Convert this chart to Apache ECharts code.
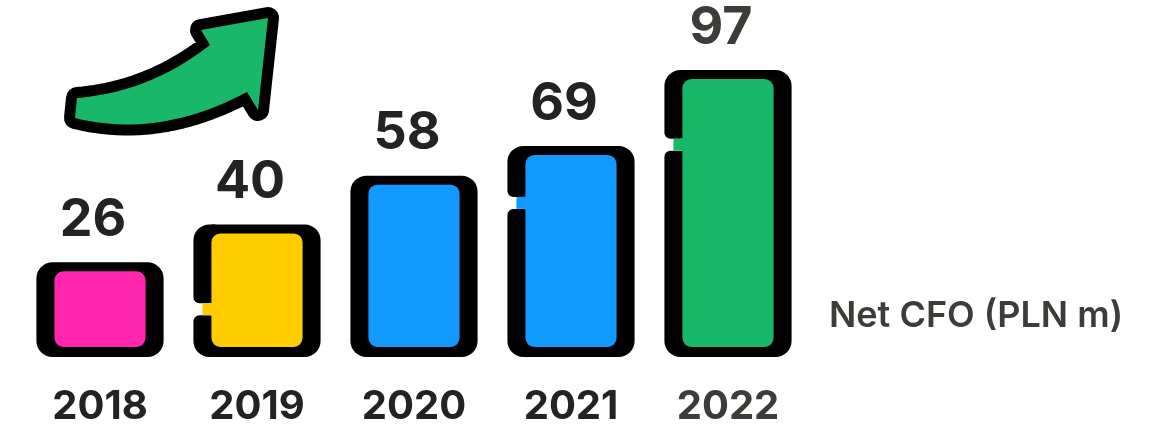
<!DOCTYPE html>
<html>
<head>
<meta charset="utf-8">
<script src="https://cdn.jsdelivr.net/npm/echarts@6/dist/echarts.min.js"></script>
<style>
  html, body { margin: 0; padding: 0; background: #ffffff; }
  #chart { width: 1162px; height: 428px; }
</style>
</head>
<body>
<div id="chart"></div>
<script>
// Net cash flow from operations, PLN m
const categories = ['2018', '2019', '2020', '2021', '2022'];
const netCfo = [26, 40, 58, 69, 97];
const seriesName = 'Net CFO (PLN m)';

// Styling per bar
const barColors = ['#FF27AD', '#FFCC00', '#1199FF', '#1199FF', '#17B868'];
const notchAt = [null, 0.64, null, 0.27, 0.26];   // break in the left outline, fraction of bar height
const labelColors = ['#232323', '#232323', '#232323', '#232323', '#3c3c39'];

const Y_MIN = -9;
const Y_MAX = 100;
const FONT = 'Inter, "DejaVu Sans", sans-serif';

const chart = echarts.init(document.getElementById('chart'), null, { renderer: 'canvas' });

function renderBar(params, api) {
  const idx = params.dataIndex;
  const i = api.value(0);
  const v = api.value(1);
  const topPt = api.coord([i, v]);
  const basePt = api.coord([i, Y_MIN]);
  const band = api.size([1, 0])[0];
  const W = band * 0.81;
  const x0 = topPt[0] - W / 2;
  const yT = topPt[1];
  const yB = basePt[1];
  const H = yB - yT;
  const S = 18, T = 9, B = 10, R = 16, r = 9;
  const color = barColors[idx];
  const children = [];

  const notch = notchAt[idx];
  if (notch == null) {
    children.push({ type: 'rect', shape: { x: x0, y: yT, width: W, height: H, r: R }, style: { fill: '#000' } });
  } else {
    const gc = yT + H * notch;
    const gTop = gc - 6, gBot = gc + 6;
    // right-hand body of the outline
    children.push({ type: 'rect', shape: { x: x0 + S, y: yT, width: W - S, height: H, r: [0, R, R, 0] }, style: { fill: '#000' } });
    // left outline, split in two with rounded ends
    children.push({ type: 'rect', shape: { x: x0, y: yT, width: S + 4, height: gTop - yT, r: [R, 0, 6, 6] }, style: { fill: '#000' } });
    children.push({ type: 'rect', shape: { x: x0, y: gBot, width: S + 4, height: yB - gBot, r: [6, 6, 0, R] }, style: { fill: '#000' } });
    // fill showing through the break
    children.push({ type: 'rect', shape: { x: x0 + 9, y: gTop, width: S - 7, height: gBot - gTop }, style: { fill: color } });
  }
  // coloured body
  children.push({ type: 'rect', shape: { x: x0 + S, y: yT + T, width: W - 2 * S, height: H - T - B, r: r }, style: { fill: color } });
  // value label
  children.push({
    type: 'text',
    style: {
      text: String(v), x: topPt[0] - 7, y: yT - 16,
      align: 'center', verticalAlign: 'bottom',
      fontSize: 52, fontWeight: 700, fontFamily: FONT, fill: labelColors[idx]
    }
  });
  return { type: 'group', children: children };
}

// Upward arrow outline: two curved edges joined by the arrow head
function quad(p0, c, p1, n) {
  const pts = [];
  for (let k = 0; k <= n; k++) {
    const t = k / n, u = 1 - t;
    pts.push([u * u * p0[0] + 2 * u * t * c[0] + t * t * p1[0], u * u * p0[1] + 2 * u * t * c[1] + t * t * p1[1]]);
  }
  return pts;
}
const arrowPoints = []
  .concat(quad([77, 98], [150, 92], [210, 45], 24))
  .concat([[201, 30], [268, 18], [258, 110]])
  .concat(quad([247, 92], [159, 139], [75, 118], 24));

chart.setOption({
  backgroundColor: '#ffffff',
  animation: false,
  grid: { left: 21.5, right: 355.5, top: 62, bottom: 71, outerBoundsMode: 'none' },
  xAxis: {
    type: 'category',
    data: categories,
    axisLine: { show: false },
    axisTick: { show: false },
    splitLine: { show: false },
    axisLabel: {
      margin: 30,
      fontSize: 40,
      fontWeight: 700,
      fontFamily: FONT,
      color: function (value, index) { return labelColors[index]; }
    }
  },
  yAxis: { type: 'value', min: Y_MIN, max: Y_MAX, show: false, splitLine: { show: false } },
  series: [{
    type: 'custom',
    name: seriesName,
    renderItem: renderBar,
    encode: { x: 0, y: 1 },
    data: categories.map(function (c, i) { return [i, netCfo[i]]; })
  }],
  graphic: [
    { type: 'polygon', shape: { points: arrowPoints }, style: { fill: '#000', stroke: '#000', lineWidth: 22, lineJoin: 'round' } },
    { type: 'polygon', shape: { points: arrowPoints }, style: { fill: '#19B868' } },
    {
      type: 'text', x: 829, y: 316,
      style: { text: seriesName, fontSize: 36, fontWeight: 600, fontFamily: FONT, fill: '#3c3c39', verticalAlign: 'middle' }
    }
  ]
});
</script>
</body>
</html>
